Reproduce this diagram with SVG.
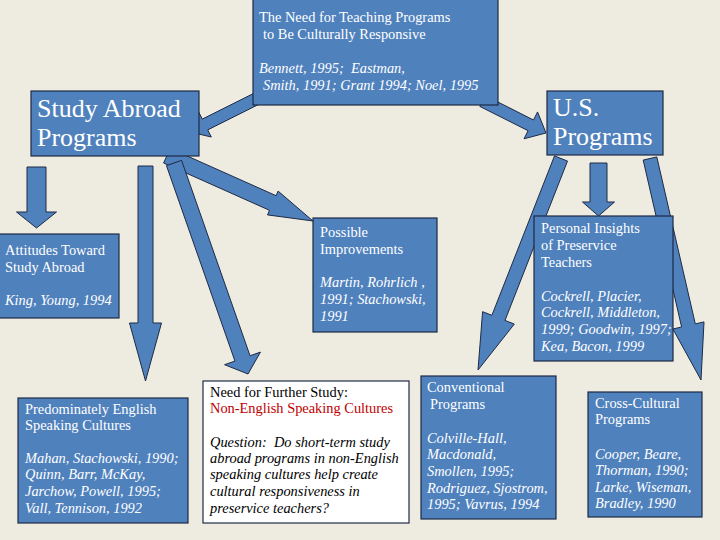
<svg xmlns="http://www.w3.org/2000/svg" width="720" height="540" viewBox="0 0 720 540" font-family="Liberation Serif, Times New Roman, serif">
<defs>
<style>
.bg{fill:#EEECE1}
.arr{fill:#4F81BD;stroke:#1F2A44;stroke-width:1;stroke-linejoin:miter}
.box{fill:#4F81BD;stroke:#1F2A44;stroke-width:1.2}
.wbox{fill:#FFFFFF;stroke:#1F2A44;stroke-width:1.2}
text{font-family:'Liberation Serif','Times New Roman','DejaVu Serif',serif;font-size:14.4px;fill:#FFFFFF;white-space:pre}
.big{font-size:26px}
.it{font-style:italic}
.dk{fill:#000000}
.red{fill:#C00000}
</style>
</defs>
<rect class="bg" x="0" y="0" width="720" height="540"/>
<g id="connectors">
<polygon class="arr" points="259.3,90.6 202.3,119.1 198.7,112 190,132 211.3,137 207.7,129.9 264.7,101.4"/>
<polygon class="arr" points="479.8,106.4 528.1,130.7 524.05,138.75 546,133 537.55,111.95 533.5,120 485.2,95.6"/>
<polygon class="arr" points="27,167 46,167 46,212 56.5,212 36.5,228 16.5,212 27,212"/>
<polygon class="arr" points="138,166 153,166 153,323 161.5,323 145.5,381 129.5,323 138,323"/>
<polygon class="arr" points="163.6,163 269.5,210.3 267.5,214.9 313,221 278.1,191.1 276.1,195.7 170.2,148.4"/>
<polygon class="arr" points="166.45,165.65 234.95,361.05 224.56,364.69 248,374 260.44,352.11 250.05,355.75 181.55,160.35"/>
<polygon class="arr" points="590,163 607,163 607,202 614.5,202 598.5,216 582.5,202 590,202"/>
<polygon class="arr" points="554.5,155.9 491.9,315.3 482.6,311.65 478,370 514.3,324.1 505,320.4 567.5,161.1"/>
<polygon class="arr" points="643.2,160.1 681.6,327 672.9,329 701,380 704,321.9 695.3,323.9 656.8,156.9"/>
</g>
<g id="top">
<rect class="box" x="253" y="-1" width="245" height="106"/>
<text x="259" y="22">The Need for Teaching Programs</text>
<text x="263" y="39">to Be Culturally Responsive</text>
<text class="it" x="259" y="73">Bennett, 1995;  Eastman,</text>
<text class="it" x="263" y="90">Smith, 1991; Grant 1994; Noel, 1995</text>
</g>
<g id="study-abroad">
<rect class="box" x="31" y="91" width="168" height="65"/>
<text class="big" x="37" y="117">Study Abroad</text>
<text class="big" x="37" y="146">Programs</text>
</g>
<g id="us-programs">
<rect class="box" x="547" y="91" width="116" height="64"/>
<text class="big" x="553" y="116">U.S.</text>
<text class="big" x="553" y="145">Programs</text>
</g>
<g id="attitudes">
<rect class="box" x="-1" y="234" width="120" height="84"/>
<text x="5" y="255">Attitudes Toward</text>
<text x="5" y="272">Study Abroad</text>
<text class="it" x="5" y="305">King, Young, 1994</text>
</g>
<g id="possible">
<rect class="box" x="313" y="218" width="124" height="114"/>
<text x="320" y="237">Possible</text>
<text x="320" y="254">Improvements</text>
<text class="it" x="320" y="287">Martin, Rohrlich ,</text>
<text class="it" x="320" y="304">1991; Stachowski,</text>
<text class="it" x="320" y="321">1991</text>
</g>
<g id="personal">
<rect class="box" x="534" y="216" width="139" height="145"/>
<text x="541" y="233">Personal Insights</text>
<text x="541" y="250">of Preservice</text>
<text x="541" y="267">Teachers</text>
<text class="it" x="541" y="301">Cockrell, Placier,</text>
<text class="it" x="541" y="317">Cockrell, Middleton,</text>
<text class="it" x="541" y="334">1999; Goodwin, 1997;</text>
<text class="it" x="541" y="351">Kea, Bacon, 1999</text>
</g>
<g id="english">
<rect class="box" x="18" y="398" width="170" height="125"/>
<text x="25" y="414">Predominately English</text>
<text x="25" y="430">Speaking Cultures</text>
<text class="it" x="25" y="463">Mahan, Stachowski, 1990;</text>
<text class="it" x="25" y="479">Quinn, Barr, McKay,</text>
<text class="it" x="25" y="496">Jarchow, Powell, 1995;</text>
<text class="it" x="25" y="513">Vall, Tennison, 1992</text>
</g>
<g id="further-study">
<rect class="wbox" x="203" y="381" width="206" height="142"/>
<text class="dk" x="210" y="397">Need for Further Study:</text>
<text class="red" x="210" y="413">Non-English Speaking Cultures</text>
<text class="dk it" x="210" y="447">Question:  Do short-term study</text>
<text class="dk it" x="210" y="463">abroad programs in non-English</text>
<text class="dk it" x="210" y="479">speaking cultures help create</text>
<text class="dk it" x="210" y="496">cultural responsiveness in</text>
<text class="dk it" x="210" y="513">preservice teachers?</text>
</g>
<g id="conventional">
<rect class="box" x="421" y="376" width="135" height="143"/>
<text x="427" y="392">Conventional</text>
<text x="430" y="409">Programs</text>
<text class="it" x="427" y="443">Colville-Hall,</text>
<text class="it" x="427" y="459">Macdonald,</text>
<text class="it" x="427" y="476">Smollen, 1995;</text>
<text class="it" x="427" y="493">Rodriguez, Sjostrom,</text>
<text class="it" x="427" y="509">1995; Vavrus, 1994</text>
</g>
<g id="cross-cultural">
<rect class="box" x="588" y="392" width="114" height="125"/>
<text x="595" y="408">Cross-Cultural</text>
<text x="595" y="424">Programs</text>
<text class="it" x="595" y="459">Cooper, Beare,</text>
<text class="it" x="595" y="475">Thorman, 1990;</text>
<text class="it" x="595" y="492">Larke, Wiseman,</text>
<text class="it" x="595" y="508">Bradley, 1990</text>
</g>
</svg>
